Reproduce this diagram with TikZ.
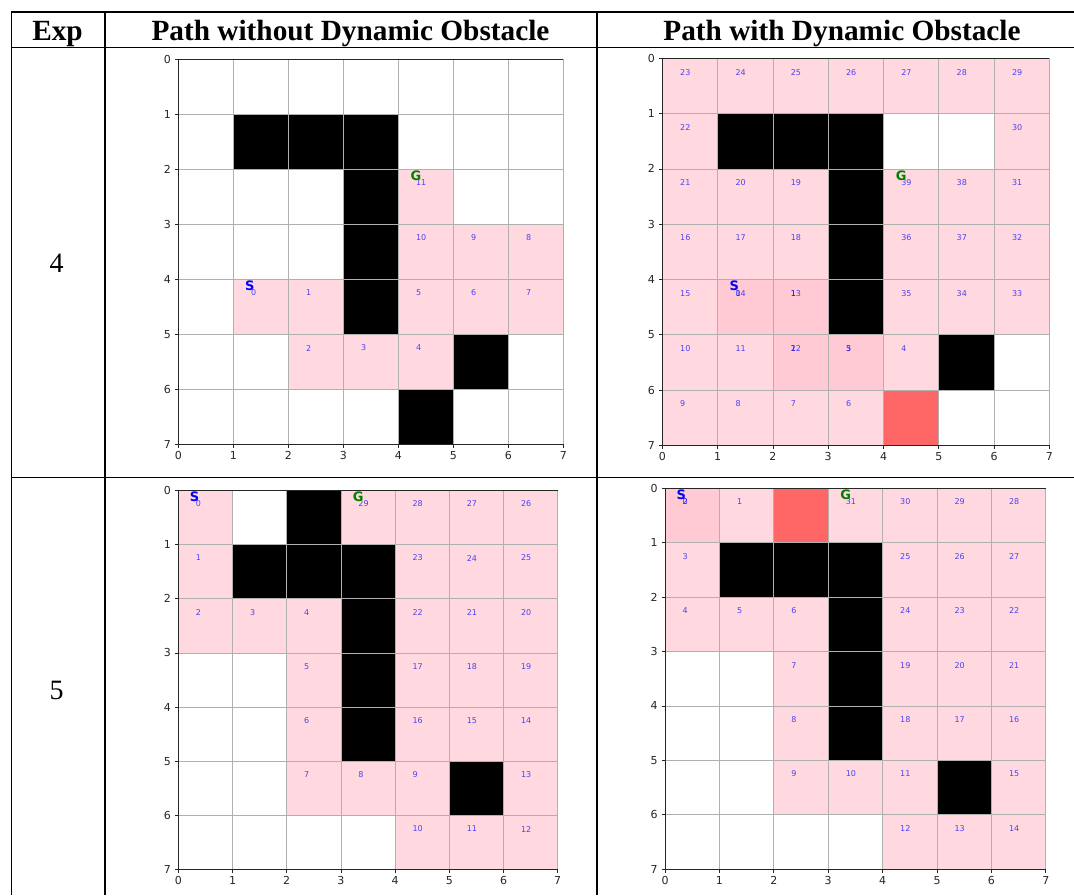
\documentclass[tikz,border=0pt]{standalone}
\usepackage{fontspec}
\setmainfont{Liberation Serif}
\newfontfamily\mplfont{DejaVu Sans}
\usepackage{tikz}
\usetikzlibrary{positioning}
\definecolor{mplpink}{HTML}{FFC0CB}
\definecolor{mplgreen}{HTML}{008000}
\definecolor{gridgray}{HTML}{B0B0B0}
\tikzset{
  tblline/.style={line width=1.5pt},
  hdrtext/.style={font=\bfseries\fontsize{29.3}{32}\selectfont, inner sep=0pt, anchor=base},
  expnum/.style={font=\fontsize{28}{30}\selectfont, inner sep=0pt},
  pathcell/.style={fill=mplpink, fill opacity=0.6},
  dyncell/.style={fill=red, fill opacity=0.6},
  obstcell/.style={fill=black},
  gridline/.style={draw=gridgray, line width=0.8pt},
  spine/.style={draw=black!85, line width=0.8pt},
  ticklbl/.style={font=\mplfont\fontsize{11}{11}\selectfont, text=black!85, inner sep=0pt},
  cellnum/.style={font=\mplfont\fontsize{8}{8}\selectfont, text=blue, text opacity=0.7, anchor=west, inner sep=0pt},
  startlbl/.style={font=\mplfont\bfseries\fontsize{13}{13}\selectfont, text=blue, inner sep=0pt},
  goallbl/.style={font=\mplfont\bfseries\fontsize{13}{13}\selectfont, text=mplgreen, inner sep=0pt}
}
% grid lines, spines and ticks of one 7x7 plot, #1 = name prefix
\newcommand{\gridaxes}[1]{%
  \foreach \i in {1,...,6} {
    \draw[gridline] (\i,0) -- (\i,7);
    \draw[gridline] (0,\i) -- (7,\i);
  }
  \draw[gridline] (7,0) -- (7,7);
  \draw[spine] (7,0) -- (0,0) -- (0,7) -- (7,7);
  \foreach \i in {0,...,7} {
    \draw[spine] (0,\i) -- ++(-3.5pt,0) node[ticklbl, left=3.5pt] (#1y\i) {\i};
    \draw[spine] (\i,7) -- ++(0,-3.5pt) node[ticklbl, below=3pt] (#1x\i) {\i};
  }
}
\def\pathA{1/4,2/4,2/5,3/5,4/5,4/4,5/4,6/4,6/3,5/3,4/3,4/2}
\def\pathB{1/4,2/4,2/5,3/5,4/5,3/5,3/6,2/6,1/6,0/6,0/5,1/5,2/5,2/4,1/4,0/4,0/3,1/3,2/3,2/2,1/2,0/2,0/1,0/0,1/0,2/0,3/0,4/0,5/0,6/0,6/1,6/2,6/3,6/4,5/4,4/4,4/3,5/3,5/2,4/2}
\def\pathC{0/0,0/1,0/2,1/2,2/2,2/3,2/4,2/5,3/5,4/5,4/6,5/6,6/6,6/5,6/4,5/4,4/4,4/3,5/3,6/3,6/2,5/2,4/2,4/1,5/1,6/1,6/0,5/0,4/0,3/0}
\def\pathD{0/0,1/0,0/0,0/1,0/2,1/2,2/2,2/3,2/4,2/5,3/5,4/5,4/6,5/6,6/6,6/5,6/4,5/4,4/4,4/3,5/3,6/3,6/2,5/2,4/2,4/1,5/1,6/1,6/0,5/0,4/0,3/0}

\begin{document}
\begin{tikzpicture}[x=1pt, y=-1pt]
  \useasboundingbox (0,0) rectangle (1074,895);
  \fill[white] (0,0) rectangle (1074,895);

  % table rules
  \draw[tblline] (11.3,12) -- (1074,12);
  \draw[tblline] (11.3,47.7) -- (1074,47.7);
  \draw[tblline] (11.3,477.3) -- (1074,477.3);
  \draw[tblline] (11.3,12) -- (11.3,895);
  \draw[tblline] (105,12) -- (105,895);
  \draw[tblline] (597,12) -- (597,895);

  \node[hdrtext] (hexp) at (57.5,40) {Exp};
  \node[hdrtext] (hwithout) at (350.5,40) {Path without Dynamic Obstacle};
  \node[hdrtext] (hwith) at (842,40) {Path with Dynamic Obstacle};
  \node[expnum] (exp4) at (56.7,263.5) {4};
  \node[expnum] (exp5) at (56.7,690) {5};

  % Exp 4, without
  \begin{scope}[shift={(178.3,59.3)}, x=55pt, y=-55pt]
    \foreach \c/\r in \pathA \fill[pathcell] (\c,\r) rectangle ++(1,1);
    \foreach \c/\r in {1/1,2/1,3/1,3/2,3/3,3/4,5/5,4/6} \fill[obstcell] (\c,\r) rectangle ++(1,1);
    \gridaxes{a}
    \foreach \c/\r [count=\k from 0] in \pathA \node[cellnum] (a\k) at (\c+0.32,\r+0.25) {\k};
    \node[startlbl] (aS) at (1.3,4.12) {S};
    \node[goallbl] (aG) at (4.32,2.12) {G};
  \end{scope}

  % Exp 4, with
  \begin{scope}[shift={(662.3,58.3)}, x=55.3pt, y=-55.3pt]
    \foreach \c/\r in \pathB \fill[pathcell] (\c,\r) rectangle ++(1,1);
    \fill[dyncell] (4,6) rectangle ++(1,1);
    \foreach \c/\r in {1/1,2/1,3/1,3/2,3/3,3/4,5/5} \fill[obstcell] (\c,\r) rectangle ++(1,1);
    \gridaxes{b}
    \foreach \c/\r [count=\k from 0] in \pathB \node[cellnum] (b\k) at (\c+0.32,\r+0.25) {\k};
    \node[startlbl] (bS) at (1.3,4.12) {S};
    \node[goallbl] (bG) at (4.32,2.12) {G};
  \end{scope}

  % Exp 5, without
  \begin{scope}[shift={(178.3,490.3)}, x=54.2pt, y=-54.2pt]
    \foreach \c/\r in \pathC \fill[pathcell] (\c,\r) rectangle ++(1,1);
    \foreach \c/\r in {2/0,1/1,2/1,3/1,3/2,3/3,3/4,5/5} \fill[obstcell] (\c,\r) rectangle ++(1,1);
    \gridaxes{c}
    \foreach \c/\r [count=\k from 0] in \pathC \node[cellnum] (c\k) at (\c+0.32,\r+0.25) {\k};
    \node[startlbl] (cS) at (0.3,0.12) {S};
    \node[goallbl] (cG) at (3.32,0.12) {G};
  \end{scope}

  % Exp 5, with
  \begin{scope}[shift={(665,488.3)}, x=54.4pt, y=-54.4pt]
    \foreach \c/\r in \pathD \fill[pathcell] (\c,\r) rectangle ++(1,1);
    \fill[dyncell] (2,0) rectangle ++(1,1);
    \foreach \c/\r in {1/1,2/1,3/1,3/2,3/3,3/4,5/5} \fill[obstcell] (\c,\r) rectangle ++(1,1);
    \gridaxes{d}
    \foreach \c/\r [count=\k from 0] in \pathD \node[cellnum] (d\k) at (\c+0.32,\r+0.25) {\k};
    \node[startlbl] (dS) at (0.3,0.12) {S};
    \node[goallbl] (dG) at (3.32,0.12) {G};
  \end{scope}
\end{tikzpicture}
\end{document}
